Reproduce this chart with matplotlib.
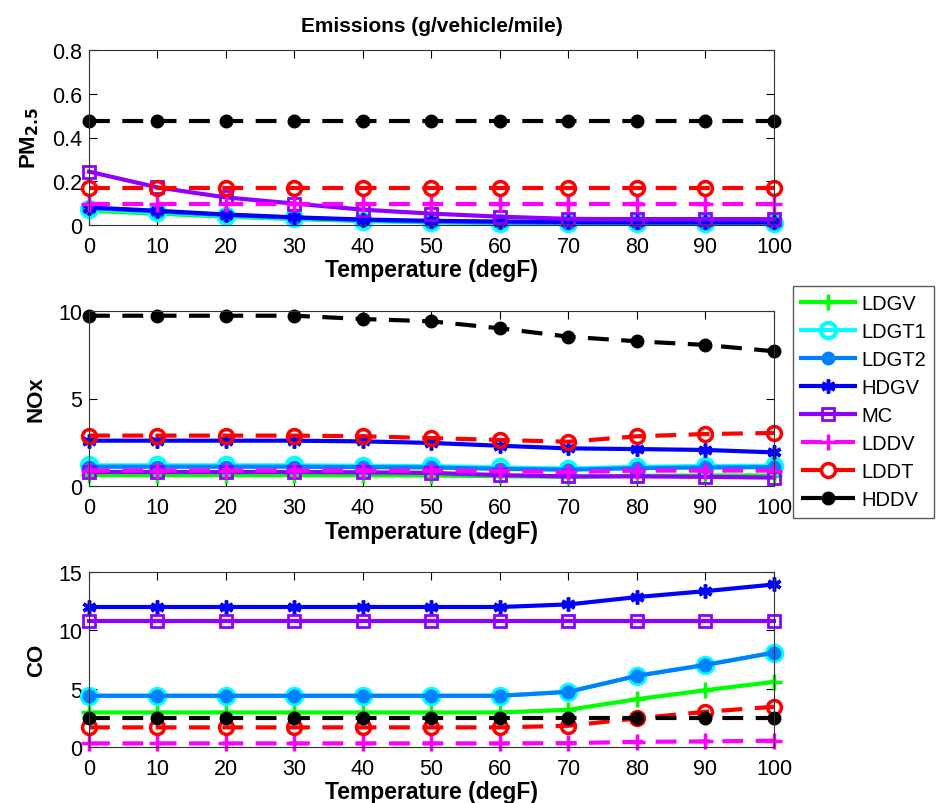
import matplotlib
matplotlib.use("Agg")
import matplotlib.pyplot as plt

plt.rcParams['font.family'] = ['Liberation Sans', 'DejaVu Sans']

temps = [0, 10, 20, 30, 40, 50, 60, 70, 80, 90, 100]
vehicles = ['LDGV', 'LDGT1', 'LDGT2', 'HDGV', 'MC', 'LDDV', 'LDDT', 'HDDV']

pm_LDGV = [0.065, 0.052, 0.038, 0.027, 0.018, 0.012, 0.009, 0.007, 0.006, 0.006, 0.006]
pm_LDGT1 = [0.072, 0.058, 0.042, 0.030, 0.020, 0.014, 0.010, 0.008, 0.007, 0.007, 0.007]
pm_LDGT2 = [0.078, 0.062, 0.046, 0.033, 0.022, 0.016, 0.012, 0.010, 0.009, 0.009, 0.009]
pm_HDGV = [0.080, 0.065, 0.048, 0.035, 0.025, 0.019, 0.016, 0.014, 0.013, 0.013, 0.013]
pm_MC = [0.244, 0.172, 0.126, 0.098, 0.070, 0.052, 0.038, 0.028, 0.027, 0.027, 0.027]
pm_LDDV = [0.098, 0.098, 0.098, 0.098, 0.098, 0.098, 0.098, 0.098, 0.098, 0.098, 0.098]
pm_LDDT = [0.170, 0.170, 0.170, 0.170, 0.170, 0.170, 0.170, 0.170, 0.170, 0.170, 0.170]
pm_HDDV = [0.474, 0.474, 0.474, 0.474, 0.474, 0.474, 0.474, 0.474, 0.474, 0.474, 0.474]

nox_LDGV = [0.62, 0.62, 0.62, 0.62, 0.61, 0.60, 0.56, 0.52, 0.58, 0.60, 0.60]
nox_LDGT1 = [1.18, 1.18, 1.18, 1.18, 1.16, 1.14, 1.06, 1.00, 1.10, 1.14, 1.16]
nox_LDGT2 = [1.10, 1.10, 1.10, 1.10, 1.08, 1.06, 0.98, 0.93, 1.02, 1.06, 1.08]
nox_HDGV = [2.59, 2.59, 2.59, 2.59, 2.55, 2.46, 2.30, 2.15, 2.11, 2.06, 1.92]
nox_MC = [0.80, 0.80, 0.80, 0.80, 0.78, 0.75, 0.62, 0.55, 0.55, 0.52, 0.48]
nox_LDDV = [0.88, 0.88, 0.88, 0.88, 0.88, 0.88, 0.85, 0.80, 0.88, 0.88, 0.88]
nox_LDDT = [2.88, 2.88, 2.88, 2.88, 2.84, 2.74, 2.63, 2.53, 2.84, 2.97, 3.03]
nox_HDDV = [9.73, 9.73, 9.73, 9.73, 9.54, 9.41, 9.01, 8.53, 8.27, 8.06, 7.70]

co_LDGV = [2.96, 2.96, 2.96, 2.96, 2.96, 2.96, 2.96, 3.19, 4.10, 4.87, 5.58]
co_LDGT1 = [4.39, 4.39, 4.39, 4.39, 4.39, 4.39, 4.39, 4.73, 6.10, 7.04, 8.09]
co_LDGT2 = [4.39, 4.39, 4.39, 4.39, 4.39, 4.39, 4.39, 4.73, 6.10, 7.04, 8.09]
co_HDGV = [12.0, 12.0, 12.0, 12.0, 12.0, 12.0, 12.0, 12.22, 12.85, 13.36, 13.93]
co_MC = [10.8, 10.8, 10.8, 10.8, 10.8, 10.8, 10.8, 10.8, 10.8, 10.8, 10.8]
co_LDDV = [0.31, 0.31, 0.31, 0.31, 0.31, 0.31, 0.31, 0.33, 0.44, 0.48, 0.54]
co_LDDT = [1.68, 1.68, 1.68, 1.68, 1.68, 1.68, 1.68, 1.82, 2.45, 3.02, 3.45]
co_HDDV = [2.45, 2.45, 2.45, 2.45, 2.45, 2.45, 2.45, 2.45, 2.45, 2.45, 2.45]

pm = [pm_LDGV, pm_LDGT1, pm_LDGT2, pm_HDGV, pm_MC, pm_LDDV, pm_LDDT, pm_HDDV]
nox = [nox_LDGV, nox_LDGT1, nox_LDGT2, nox_HDGV, nox_MC, nox_LDDV, nox_LDDT, nox_HDDV]
co = [co_LDGV, co_LDGT1, co_LDGT2, co_HDGV, co_MC, co_LDDV, co_LDDT, co_HDDV]

DASH = (5, 3)
styles = [
    dict(color='#00FF00', ls='-', marker='+', ms=12, mew=2.5, mfc='#00FF00'),
    dict(color='#00FFFF', ls='-', marker='o', ms=11, mew=3, mfc='none'),
    dict(color='#0080FF', ls='-', marker='o', ms=9, mew=1, mfc='#0080FF'),
    dict(color='#0000FF', ls='-', marker=(6, 2, 0), ms=10, mew=2.5),
    dict(color='#8F00FF', ls='-', marker='s', ms=9, mew=2, mfc='none'),
    dict(color='#FF00FF', ls=(0, DASH), marker='+', ms=12, mew=2.5),
    dict(color='#FF0000', ls=(0, DASH), marker='o', ms=10, mew=2.5, mfc='none'),
    dict(color='#000000', ls=(0, DASH), marker='o', ms=9, mew=1, mfc='#000000'),
]

fig = plt.figure(figsize=(9.37, 8.04), dpi=100)
W, H = 937.0, 804.0
left, right = 89, 774
boxes = [(51, 226), (312, 487), (573, 748)]
axes = []
for top, bot in boxes:
    ax = fig.add_axes([left / W, 1 - bot / H, (right - left) / W, (bot - top) / H])
    axes.append(ax)

datasets = [pm, nox, co]
ylims = [(0, 0.8), (0, 10), (0, 15)]
yticks = [[0, 0.2, 0.4, 0.6, 0.8], [0, 5, 10], [0, 5, 10, 15]]
yticklabels = [['0', '0.2', '0.4', '0.6', '0.8'], ['0', '5', '10'], ['0', '5', '10', '15']]
ylabels = [r'PM$_{\mathbf{2.5}}$', 'NOx', 'CO']

handles = []
for i, (ax, data) in enumerate(zip(axes, datasets)):
    for j, (name, vals) in enumerate(zip(vehicles, data)):
        st = styles[j]
        h, = ax.plot(temps, vals, color=st['color'], linestyle=st['ls'], lw=3,
                     marker=st['marker'], markersize=st['ms'], markeredgewidth=st['mew'],
                     markerfacecolor=st.get('mfc', st['color']), markeredgecolor=st['color'],
                     label=name, clip_on=False)
        if i == 1:
            handles.append(h)
    ax.set_xlim(0, 100)
    ax.set_ylim(*ylims[i])
    ax.set_xticks(temps)
    ax.set_xticklabels([str(t) for t in temps])
    ax.set_yticks(yticks[i])
    ax.set_yticklabels(yticklabels[i])
    ax.tick_params(direction='in', top=True, right=True, length=6, width=0.8,
                   labelsize=15.5, colors='black')
    ax.tick_params(axis='x', pad=8)
    ax.tick_params(axis='y', pad=5)
    for sp in ax.spines.values():
        sp.set_linewidth(0.8)
        sp.set_color('#333333')
    ax.set_xlabel('Temperature (degF)', fontsize=16.5, fontweight='bold', labelpad=1)
    ax.set_ylabel(ylabels[i], fontsize=16, fontweight='bold', labelpad=8)

axes[0].set_title('Emissions (g/vehicle/mile)', fontsize=15, fontweight='bold', pad=14)

leg = fig.legend(handles=handles, labels=vehicles, loc='upper left',
                 bbox_to_anchor=(793 / W, 1 - 287 / H), fontsize=14.5,
                 handlelength=2.7, handletextpad=0.3, labelspacing=0.45,
                 borderpad=0.4, borderaxespad=0, frameon=True, fancybox=False)
leg.get_frame().set_edgecolor('#333333')
leg.get_frame().set_linewidth(1)

fig.savefig('out.png', dpi=100)
